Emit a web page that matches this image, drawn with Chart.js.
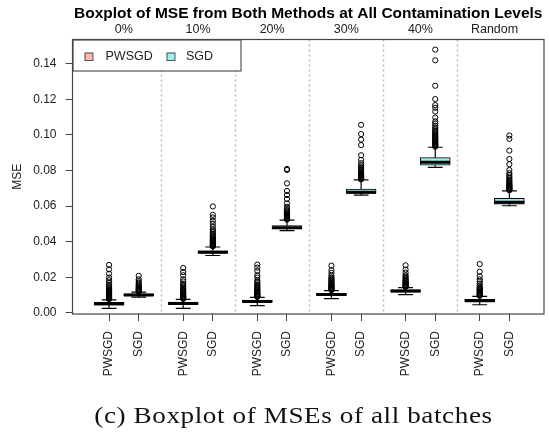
<!DOCTYPE html>
<html>
<head>
<meta charset="utf-8">
<script src="https://cdn.jsdelivr.net/npm/chart.js@4.4.1/dist/chart.umd.min.js"></script>
<style>
  html, body { margin: 0; padding: 0; background: #ffffff; }
  #wrap { position: relative; width: 549px; height: 434px; overflow: hidden; }
  #c { position: absolute; left: 0; top: 0; }
  #caption {
    position: absolute; left: 19px; width: 549px; top: 404px;
    text-align: center; font-family: "Liberation Serif", "DejaVu Serif", serif;
    font-size: 23px; line-height: 23px; letter-spacing: 0.5px; color: #111111; white-space: nowrap;
    transform: scaleX(1.18); transform-origin: 274.5px 0;
  }
</style>
</head>
<body>
<div id="wrap">
  <canvas id="c" width="549" height="434"></canvas>
  <div id="caption">(c) Boxplot of MSEs of all batches</div>
</div>
<script>
// Contamination levels and the two estimators compared at each level
const levels = ['0%', '10%', '20%', '30%', '40%', 'Random'];
const methods = ['PWSGD', 'SGD'];

// Box statistics, ordered level by level: PWSGD then SGD
const whiskerLow = [0.0025, 0.0088, 0.0025, 0.0322, 0.0040, 0.0462, 0.0080, 0.0662, 0.0102, 0.0818, 0.0045, 0.0602];
const q1         = [0.0043, 0.0096, 0.0045, 0.0335, 0.0058, 0.0472, 0.0096, 0.0671, 0.0116, 0.0830, 0.0062, 0.0611];
const median     = [0.0050, 0.0100, 0.0052, 0.0341, 0.0064, 0.0478, 0.0102, 0.0678, 0.0122, 0.0846, 0.0068, 0.0621];
const q3         = [0.0058, 0.0106, 0.0060, 0.0349, 0.0071, 0.0490, 0.0109, 0.0696, 0.0129, 0.0873, 0.0076, 0.0643];
const whiskerHigh= [0.0073, 0.0116, 0.0075, 0.0370, 0.0086, 0.0521, 0.0124, 0.0747, 0.0141, 0.0931, 0.0092, 0.0686];

// Batches flagged as outliers, same order as above
const outliers = [
  [0.0076, 0.0079, 0.0082, 0.0085, 0.0088, 0.0091, 0.0094, 0.0098, 0.0102, 0.0106, 0.0110, 0.0114, 0.0119, 0.0124, 0.0130, 0.0136, 0.0143, 0.0150, 0.0158, 0.0169, 0.0183, 0.0198, 0.0220, 0.0244, 0.0269],
  [0.0119, 0.0122, 0.0125, 0.0128, 0.0131, 0.0135, 0.0139, 0.0143, 0.0148, 0.0154, 0.0160, 0.0169, 0.0177, 0.0188, 0.0208],
  [0.0078, 0.0081, 0.0084, 0.0087, 0.0090, 0.0093, 0.0097, 0.0101, 0.0105, 0.0109, 0.0113, 0.0118, 0.0123, 0.0128, 0.0134, 0.0140, 0.0148, 0.0156, 0.0164, 0.0176, 0.0188, 0.0211, 0.0229, 0.0252],
  [0.0373, 0.0376, 0.0379, 0.0382, 0.0385, 0.0388, 0.0392, 0.0396, 0.0400, 0.0404, 0.0408, 0.0413, 0.0418, 0.0424, 0.0430, 0.0436, 0.0443, 0.0452, 0.0461, 0.0469, 0.0483, 0.0500, 0.0517, 0.0536, 0.0551, 0.0598],
  [0.0089, 0.0092, 0.0095, 0.0098, 0.0101, 0.0104, 0.0108, 0.0112, 0.0116, 0.0120, 0.0125, 0.0130, 0.0135, 0.0140, 0.0146, 0.0152, 0.0158, 0.0166, 0.0174, 0.0182, 0.0198, 0.0211, 0.0235, 0.0254, 0.0271],
  [0.0524, 0.0527, 0.0530, 0.0533, 0.0536, 0.0540, 0.0544, 0.0548, 0.0553, 0.0558, 0.0564, 0.0570, 0.0577, 0.0585, 0.0596, 0.0615, 0.0640, 0.0662, 0.0685, 0.0728, 0.0803, 0.0809],
  [0.0127, 0.0130, 0.0133, 0.0136, 0.0139, 0.0142, 0.0145, 0.0149, 0.0153, 0.0157, 0.0161, 0.0165, 0.0170, 0.0175, 0.0180, 0.0186, 0.0192, 0.0198, 0.0209, 0.0224, 0.0239, 0.0265],
  [0.0750, 0.0753, 0.0756, 0.0759, 0.0762, 0.0765, 0.0769, 0.0773, 0.0777, 0.0781, 0.0786, 0.0791, 0.0797, 0.0803, 0.0810, 0.0819, 0.0829, 0.0841, 0.0860, 0.0886, 0.0943, 0.0974, 0.1005, 0.1057],
  [0.0144, 0.0147, 0.0150, 0.0153, 0.0156, 0.0159, 0.0163, 0.0167, 0.0171, 0.0175, 0.0180, 0.0185, 0.0190, 0.0197, 0.0204, 0.0211, 0.0226, 0.0243, 0.0267],
  [0.0934, 0.0937, 0.0940, 0.0943, 0.0946, 0.0950, 0.0954, 0.0958, 0.0962, 0.0966, 0.0970, 0.0975, 0.0980, 0.0985, 0.0990, 0.0996, 0.1002, 0.1009, 0.1016, 0.1024, 0.1033, 0.1042, 0.1052, 0.1064, 0.1076, 0.1098, 0.1132, 0.1153, 0.1168, 0.1202, 0.1277, 0.1420, 0.1480],
  [0.0095, 0.0098, 0.0101, 0.0104, 0.0107, 0.0110, 0.0114, 0.0118, 0.0122, 0.0126, 0.0130, 0.0135, 0.0140, 0.0145, 0.0154, 0.0164, 0.0176, 0.0188, 0.0205, 0.0231, 0.0274],
  [0.0689, 0.0692, 0.0695, 0.0698, 0.0701, 0.0704, 0.0708, 0.0712, 0.0716, 0.0720, 0.0725, 0.0730, 0.0736, 0.0742, 0.0749, 0.0757, 0.0766, 0.0775, 0.0785, 0.0803, 0.0835, 0.0865, 0.0912, 0.0978, 0.0997]
];

const yTicks = [0, 0.02, 0.04, 0.06, 0.08, 0.10, 0.12, 0.14];

// ---- layout helpers ----
const fills = { PWSGD: '#FFB4B4', SGD: '#9EEEEE' };
const ink = '#222222';
const fontFamily = '"Liberation Sans", Arial, Helvetica, sans-serif';
// x slot of box k: pairs of boxes with a wider gap between levels
const slot = k => Math.floor(k / 2) * 2.5 + (k % 2) + 1;
const slots = q1.map((_, k) => slot(k));
const levelCentres = levels.map((_, g) => (slot(2 * g) + slot(2 * g + 1)) / 2);
const separators = levels.slice(1).map((_, g) => (slot(2 * g + 1) + slot(2 * g + 2)) / 2);
const X_MIN = -0.233, X_MAX = 15.668;
const Y_MIN = -0.0007, Y_MAX = 0.1537;
const HALF_BOX = 0.5, HALF_STAPLE = 0.25;

function boxesFor(m) {
  const pts = [];
  q1.forEach((v, k) => { if (k % 2 === m) pts.push({ x: slots[k], y: [q1[k], q3[k]] }); });
  return pts;
}

const medianSegs = [];
const whiskerSegs = [];
const outlierPts = [];
q1.forEach((_, k) => {
  const p = slots[k];
  medianSegs.push({ x: p - HALF_BOX, y: median[k] }, { x: p + HALF_BOX, y: median[k] }, { x: p + HALF_BOX, y: null });
  whiskerSegs.push(
    { x: p, y: q3[k] }, { x: p, y: whiskerHigh[k] }, { x: p, y: null },
    { x: p - HALF_STAPLE, y: whiskerHigh[k] }, { x: p + HALF_STAPLE, y: whiskerHigh[k] }, { x: p + HALF_STAPLE, y: null },
    { x: p, y: q1[k] }, { x: p, y: whiskerLow[k] }, { x: p, y: null },
    { x: p - HALF_STAPLE, y: whiskerLow[k] }, { x: p + HALF_STAPLE, y: whiskerLow[k] }, { x: p + HALF_STAPLE, y: null }
  );
  outliers[k].forEach(v => outlierPts.push({ x: p, y: v }));
});

// dotted separators, legend box and plot frame
const decorations = {
  id: 'decorations',
  beforeDatasetsDraw(chart) {
    const { ctx, chartArea: a, scales: { x } } = chart;
    ctx.save();
    ctx.strokeStyle = '#b8b8b8';
    ctx.lineWidth = 1.5;
    ctx.setLineDash([2, 3]);
    separators.forEach(v => {
      const px = Math.round(x.getPixelForValue(v)) + 0.5;
      ctx.beginPath();
      ctx.moveTo(px, a.top);
      ctx.lineTo(px, a.bottom);
      ctx.stroke();
    });
    ctx.restore();
  },
  afterDatasetsDraw(chart) {
    const { ctx, chartArea: a } = chart;
    ctx.save();
    // legend
    const lw = 168, lh = 31;
    ctx.fillStyle = '#ffffff';
    ctx.fillRect(a.left, a.top, lw, lh);
    ctx.strokeStyle = '#333333';
    ctx.lineWidth = 1;
    ctx.strokeRect(a.left + 0.5, a.top + 0.5, lw, lh);
    const cy = a.top + 17;
    const items = [
      { label: methods[0], fill: fills.PWSGD, sq: 12, tx: 33 },
      { label: methods[1], fill: fills.SGD, sq: 94, tx: 113.5 }
    ];
    ctx.font = '12.5px ' + fontFamily;
    ctx.textBaseline = 'middle';
    items.forEach(it => {
      ctx.fillStyle = it.fill;
      ctx.fillRect(a.left + it.sq, cy - 4, 8.5, 8);
      ctx.strokeStyle = '#555555';
      ctx.strokeRect(a.left + it.sq + 0.5, cy - 4 + 0.5, 8, 7.5);
      ctx.fillStyle = ink;
      ctx.fillText(it.label, a.left + it.tx, cy);
    });
    // frame
    ctx.strokeStyle = '#444444';
    ctx.lineWidth = 1.2;
    ctx.strokeRect(a.left, a.top, a.right - a.left, a.bottom - a.top);
    ctx.restore();
  }
};

new Chart(document.getElementById('c'), {
  type: 'bar',
  data: {
    datasets: [
      { type: 'line', label: 'median', data: medianSegs, borderColor: '#000000', borderWidth: 3,
        pointRadius: 0, spanGaps: false, borderCapStyle: 'butt', tension: 0 },
      { type: 'line', label: 'outliers', data: outlierPts, showLine: false, pointRadius: 2.6,
        pointBorderWidth: 1, pointBorderColor: '#000000', pointBackgroundColor: 'rgba(0,0,0,0)' },
      { type: 'line', label: 'whiskers', data: whiskerSegs, borderColor: '#000000', borderWidth: 1.2,
        pointRadius: 0, spanGaps: false, borderCapStyle: 'butt', tension: 0 },
      { label: methods[0], data: boxesFor(0), backgroundColor: fills.PWSGD, borderColor: '#000000',
        borderWidth: 1, borderSkipped: false, barThickness: 30, grouped: false },
      { label: methods[1], data: boxesFor(1), backgroundColor: fills.SGD, borderColor: '#000000',
        borderWidth: 1, borderSkipped: false, barThickness: 30, grouped: false }
    ]
  },
  options: {
    responsive: false,
    animation: false,
    events: [],
    layout: { padding: { left: 0, right: 2, top: 0, bottom: 0 } },
    plugins: { legend: { display: false }, tooltip: { enabled: false } },
    scales: {
      x: {
        type: 'linear', position: 'bottom', min: X_MIN, max: X_MAX, offset: false,
        afterBuildTicks: s => { s.ticks = slots.map(v => ({ value: v })); },
        afterFit: s => { s.height = 120; },
        ticks: {
          autoSkip: false, minRotation: 90, maxRotation: 90, padding: 10,
          color: ink, font: { family: fontFamily, size: 12 },
          callback: (v, i) => methods[i % 2]
        },
        grid: { offset: false, drawOnChartArea: false, drawTicks: true, tickLength: 7, color: '#444444', tickWidth: 1 },
        border: { display: false }
      },
      x2: {
        type: 'linear', position: 'top', min: X_MIN, max: X_MAX, offset: false,
        afterBuildTicks: s => { s.ticks = levelCentres.map(v => ({ value: v })); },
        afterFit: s => { s.height = 39.5; },
        ticks: {
          autoSkip: false, maxRotation: 0, padding: 2,
          color: ink, font: { family: fontFamily, size: 12.5 },
          callback: (v, i) => levels[i]
        },
        grid: { display: false, drawTicks: false },
        border: { display: false },
        title: {
          display: true, text: 'Boxplot of MSE from Both Methods at All Contamination Levels',
          color: '#000000', font: { family: fontFamily, size: 15.5, weight: 'bold' },
          padding: { top: 4, bottom: 0 }
        }
      },
      y: {
        type: 'linear', position: 'left', min: Y_MIN, max: Y_MAX,
        afterBuildTicks: s => { s.ticks = yTicks.map(v => ({ value: v })); },
        afterFit: s => { s.width = 72.5; },
        ticks: {
          padding: 9, color: ink, font: { family: fontFamily, size: 12 },
          callback: v => v.toFixed(2)
        },
        grid: { drawOnChartArea: false, drawTicks: true, tickLength: 7, color: '#444444' },
        border: { display: false },
        title: {
          display: true, text: 'MSE', color: ink,
          font: { family: fontFamily, size: 12 }, padding: { top: 10, bottom: 0 }
        }
      }
    }
  },
  plugins: [decorations]
});
</script>
</body>
</html>
